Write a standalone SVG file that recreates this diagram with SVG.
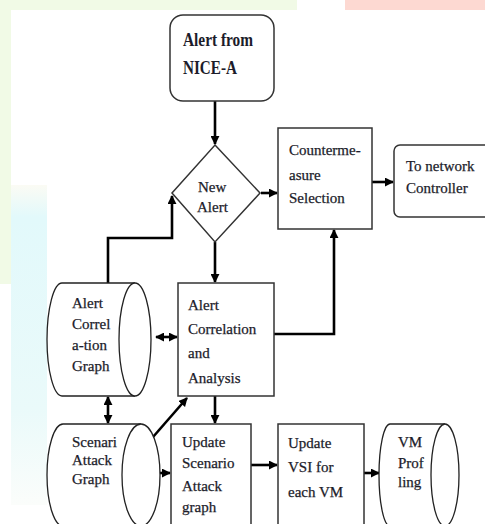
<svg xmlns="http://www.w3.org/2000/svg" width="485" height="524" viewBox="0 0 485 524">
<defs>
<style>
.box{fill:#fff;stroke:#333;stroke-width:1.5}
.cyl{fill:#fff;stroke:#222;stroke-width:1.3}
.ln{fill:none;stroke:#000;stroke-width:2.6}
.t{font-family:"Liberation Serif","Times New Roman",serif;font-size:15px;fill:#1c1c2a;stroke:#1c1c2a;stroke-width:0.25}
.tb{font-family:"Liberation Serif","Times New Roman",serif;font-size:18px;font-weight:bold;fill:#1c1c2a}
</style>
<marker id="ah" viewBox="0 0 10 10" refX="9" refY="5" markerWidth="9" markerHeight="9" markerUnits="userSpaceOnUse" orient="auto-start-reverse">
<path d="M0,0 L10,5 L0,10 z" fill="#000"/>
</marker>
<linearGradient id="cy" x1="0" y1="0" x2="0" y2="1">
<stop offset="0" stop-color="#fbfbf4"/>
<stop offset="0.1" stop-color="#e2f9fb"/>
<stop offset="0.7" stop-color="#eafafa"/>
<stop offset="1" stop-color="#fbfdfb"/>
</linearGradient>
</defs>
<rect x="0" y="0" width="485" height="524" fill="#fff"/>
<g id="background">
<rect x="0" y="0" width="297" height="10" fill="#f1fae6"/>
<rect x="0" y="0" width="11" height="284" fill="#f1fae6"/>
<rect x="345" y="0" width="140" height="10" fill="#fdd9d2"/>
<rect x="11" y="185" width="36" height="320" fill="url(#cy)"/>
</g>
<g id="connectors">
<line class="ln" x1="215" y1="101" x2="215" y2="144" marker-end="url(#ah)"/>
<line class="ln" x1="261" y1="193" x2="277" y2="193" marker-end="url(#ah)"/>
<line class="ln" x1="372" y1="182" x2="393" y2="182" marker-end="url(#ah)"/>
<polyline class="ln" points="108,283 108,238 172,238 172,196" marker-end="url(#ah)"/>
<line class="ln" x1="215" y1="242" x2="215" y2="282" marker-end="url(#ah)"/>
<polyline class="ln" points="274,334 334,334 334,230" marker-end="url(#ah)"/>
<line class="ln" x1="156" y1="337" x2="177" y2="337" marker-start="url(#ah)" marker-end="url(#ah)"/>
<line class="ln" x1="108" y1="397" x2="108" y2="423" marker-start="url(#ah)" marker-end="url(#ah)"/>
<line class="ln" x1="153" y1="437" x2="187" y2="398" marker-end="url(#ah)"/>
<line class="ln" x1="215" y1="396" x2="215" y2="423" marker-end="url(#ah)"/>
<line class="ln" x1="148" y1="473" x2="170" y2="473" marker-start="url(#ah)" marker-end="url(#ah)"/>
<line class="ln" x1="251" y1="465" x2="277" y2="465" marker-end="url(#ah)"/>
<line class="ln" x1="364" y1="473" x2="379" y2="473" marker-end="url(#ah)"/>
</g>
<g id="alert-from-nice">
<rect class="box" x="170" y="15" width="104" height="86" rx="13"/>
<text class="tb" x="183" y="46" textLength="70" lengthAdjust="spacingAndGlyphs">Alert from</text>
<text class="tb" x="183" y="74" textLength="54" lengthAdjust="spacingAndGlyphs">NICE-A</text>
</g>
<g id="new-alert">
<polygon class="box" points="215,145 260,193 215,242 172,193"/>
<text class="t" x="198" y="192">New</text>
<text class="t" x="197" y="212">Alert</text>
</g>
<g id="countermeasure">
<rect class="box" x="278" y="128" width="94" height="101"/>
<text class="t" x="289" y="155">Counterme-</text>
<text class="t" x="289" y="180">asure</text>
<text class="t" x="289" y="203">Selection</text>
</g>
<g id="network-controller">
<rect class="box" x="394" y="145" width="96" height="72" rx="6"/>
<text class="t" x="406" y="171">To network</text>
<text class="t" x="406" y="193">Controller</text>
</g>
<g id="alert-correlation-graph">
<path class="cyl" d="M135 283 L62 283 A15 56.5 0 0 0 62 396 L135 396"/>
<ellipse class="cyl" cx="135" cy="339.5" rx="16" ry="56.5"/>
<text class="t" x="72" y="308">Alert</text>
<text class="t" x="72" y="329">Correl</text>
<text class="t" x="72" y="350">a-tion</text>
<text class="t" x="72" y="371">Graph</text>
</g>
<g id="alert-correlation-analysis">
<rect class="box" x="178" y="283" width="96" height="113"/>
<text class="t" x="188" y="310">Alert</text>
<text class="t" x="188" y="334">Correlation</text>
<text class="t" x="188" y="358">and</text>
<text class="t" x="188" y="383">Analysis</text>
</g>
<g id="scenario-attack-graph">
<path class="cyl" d="M141 424 L63 424 A16 51 0 0 0 63 526 L141 526"/>
<ellipse class="cyl" cx="141" cy="475" rx="19" ry="51"/>
<text class="t" x="72" y="447">Scenari</text>
<text class="t" x="72" y="465">Attack</text>
<text class="t" x="72" y="484">Graph</text>
</g>
<g id="update-scenario">
<rect class="box" x="171" y="424" width="80" height="106"/>
<text class="t" x="182" y="447">Update</text>
<text class="t" x="182" y="468">Scenario</text>
<text class="t" x="182" y="491">Attack</text>
<text class="t" x="182" y="512">graph</text>
</g>
<g id="update-vsi">
<rect class="box" x="278" y="424" width="86" height="106"/>
<text class="t" x="288" y="448">Update</text>
<text class="t" x="288" y="472">VSI for</text>
<text class="t" x="288" y="497">each VM</text>
</g>
<g id="vm-profiling">
<path class="cyl" d="M445 424 L390 424 A11 51 0 0 0 390 526 L445 526"/>
<ellipse class="cyl" cx="445" cy="475" rx="14" ry="51"/>
<text class="t" x="398" y="447">VM</text>
<text class="t" x="398" y="468">Prof</text>
<text class="t" x="398" y="487">ling</text>
</g>
</svg>
